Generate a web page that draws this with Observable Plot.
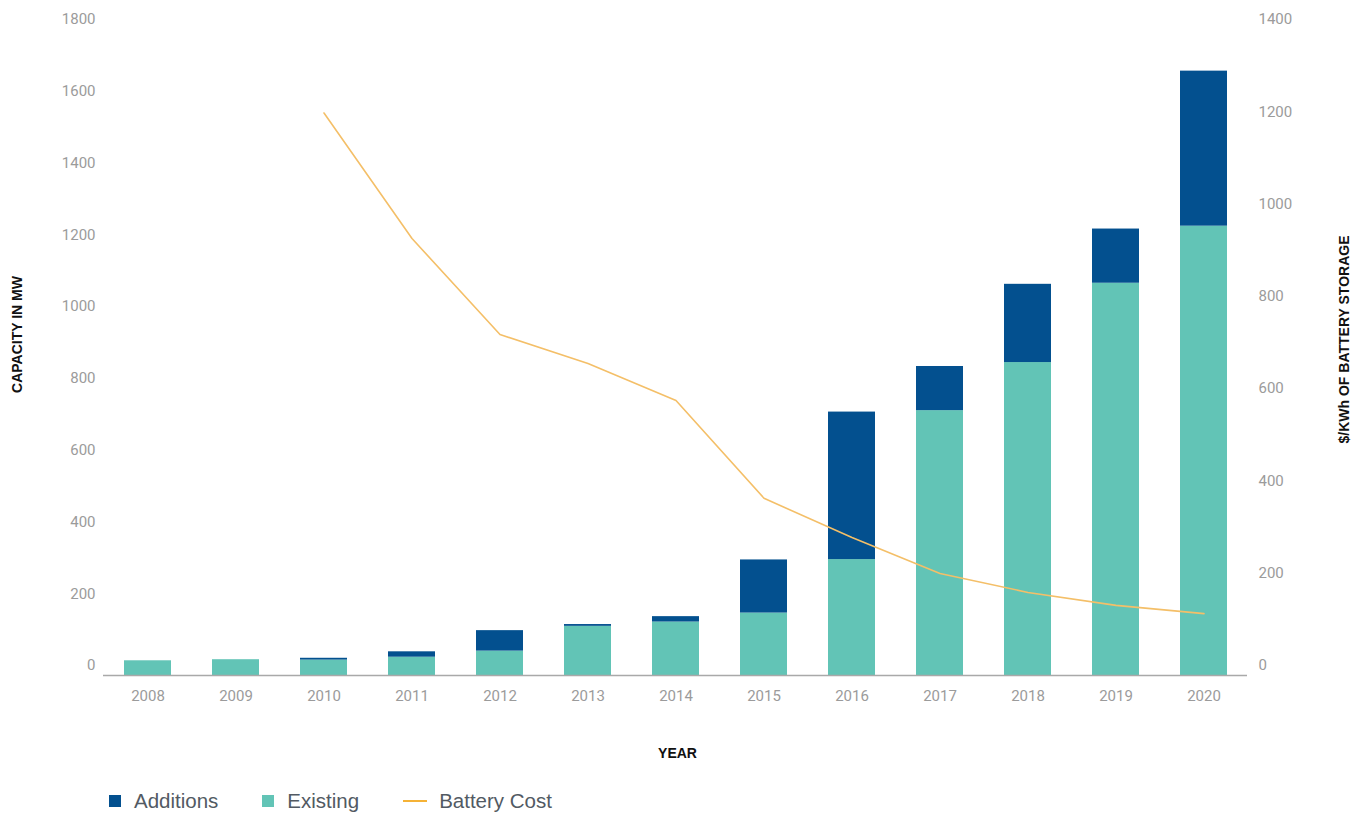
<!DOCTYPE html>
<html>
<head>
<meta charset="utf-8">
<script src="https://cdn.jsdelivr.net/npm/d3@7"></script>
<script src="https://cdn.jsdelivr.net/npm/@observablehq/plot@0.6"></script>
<style>
  body { margin: 0; background: #fff; }
  #chart svg { display: block; }
  #legend { display: flex; align-items: center; height: 38px; padding-left: 109px;
    font-family: "Liberation Sans", Arial, sans-serif; font-size: 20.5px; color: #525a63; }
  .item { display: flex; align-items: center; margin-right: 44px; }
  .sw { width: 12px; height: 12px; margin-right: 13px; }
  .ln { width: 24px; height: 2px; background: #f5b236; margin-right: 12px; }
</style>
</head>
<body>
<div id="chart"></div>
<div id="legend">
  <div class="item"><span class="sw" style="background:#03508f"></span>Additions</div>
  <div class="item"><span class="sw" style="background:#62c4b6"></span>Existing</div>
  <div class="item"><span class="ln"></span>Battery Cost</div>
</div>
<script>
const years = ["2008","2009","2010","2011","2012","2013","2014","2015","2016","2017","2018","2019","2020"];
const existing = [41, 44, 43, 51, 68, 137, 149, 174, 323, 738, 872, 1093, 1252];
const additions = [0, 0, 5, 15, 57, 5, 15, 148, 411, 123, 218, 151, 432];
const costYears = ["2010","2011","2012","2013","2014","2015","2016","2017","2018","2019","2020"];
const batteryCost = [1219, 947, 739, 676, 596, 384, 299, 221, 180, 152, 134];
const leftTicks = [0, 200, 400, 600, 800, 1000, 1200, 1400, 1600, 1800];
const rightTicks = [0, 200, 400, 600, 800, 1000, 1200, 1400];
const seriesNames = ["Additions", "Existing"];
const seriesColors = ["#03508f", "#62c4b6"];

const LEFT_MAX = 1800, RIGHT_MAX = 1400;
const k = LEFT_MAX / RIGHT_MAX;

const bars = [];
years.forEach((y, i) => bars.push({year: y, series: "Existing", value: existing[i]}));
years.forEach((y, i) => { if (additions[i] > 0) bars.push({year: y, series: "Additions", value: additions[i]}); });
const costData = costYears.map((y, i) => ({year: y, cost: batteryCost[i]}));

const tickFont = 'Roboto, "Liberation Sans", sans-serif';
const titleFont = '"Liberation Sans", Arial, sans-serif';

const chart = Plot.plot({
  width: 1353,
  height: 782,
  marginTop: 29,
  marginBottom: 107,
  marginLeft: 103,
  marginRight: 106,
  style: {fontFamily: tickFont, background: "#fff"},
  x: {domain: years, paddingInner: 0.47, paddingOuter: 0.235, label: null, axis: null},
  y: {domain: [0, LEFT_MAX], label: null, axis: null},
  color: {domain: seriesNames, range: seriesColors},
  marks: [
    Plot.barY(bars, {x: "year", y: "value", fill: "series"}),
    Plot.ruleY([0], {stroke: "#a9a9a9", strokeWidth: 1.5}),
    Plot.line(costData, {x: "year", y: d => d.cost * k, stroke: "#f4bf68", strokeWidth: 1.6}),
    Plot.axisX({tickSize: 0, tickPadding: 15, fontSize: 15, fill: "#9b9b9b", label: null}),
    Plot.axisY(leftTicks, {anchor: "left", tickSize: 0, tickPadding: 8, dy: -10, fontSize: 15, fill: "#9b9b9b", label: null,
      tickFormat: d => String(d)}),
    Plot.axisY(rightTicks.map(v => v * k), {anchor: "right", tickSize: 0, tickPadding: 11, dy: -10, fontSize: 15, fill: "#9b9b9b", label: null,
      tickFormat: d => String(Math.round(d / k))}),
    Plot.text(["CAPACITY IN MW"], {frameAnchor: "left", textAnchor: "middle", rotate: -90, dx: -86, dy: -18, fontSize: 14, fontWeight: "bold", fontFamily: titleFont, fill: "#111"}),
    Plot.text(["$/KWh OF BATTERY STORAGE"], {frameAnchor: "right", textAnchor: "middle", rotate: -90, dx: 97, dy: -13, fontSize: 14, fontWeight: "bold", fontFamily: titleFont, fill: "#111"}),
    Plot.text(["YEAR"], {frameAnchor: "bottom", dx: 2, dy: 82, fontSize: 14, fontWeight: "bold", fontFamily: titleFont, fill: "#111"})
  ]
});
document.getElementById("chart").appendChild(chart);
</script>
</body>
</html>
